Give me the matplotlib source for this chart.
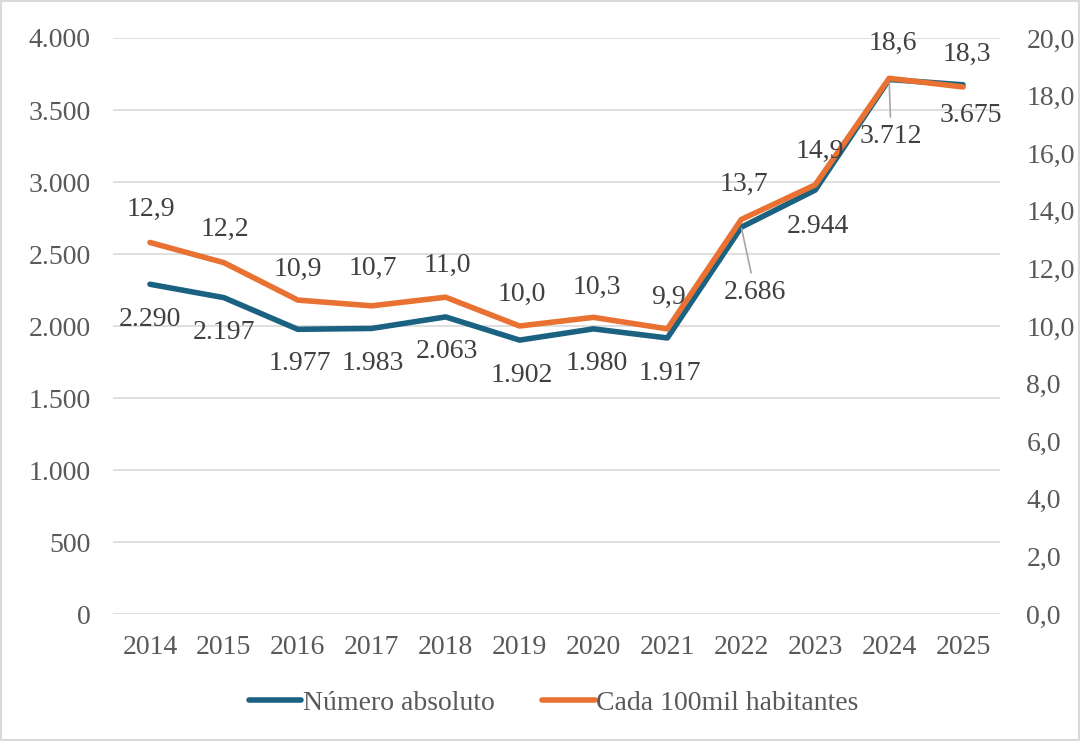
import matplotlib
matplotlib.use("Agg")
import matplotlib.pyplot as plt
from matplotlib.patches import Rectangle
from matplotlib.ticker import FuncFormatter, MultipleLocator

anos = ["2014", "2015", "2016", "2017", "2018", "2019", "2020", "2021", "2022", "2023", "2024", "2025"]
absoluto = [2290, 2197, 1977, 1983, 2063, 1902, 1980, 1917, 2686, 2944, 3712, 3675]
taxa = [12.9, 12.2, 10.9, 10.7, 11.0, 10.0, 10.3, 9.9, 13.7, 14.9, 18.6, 18.3]

# label offsets in pixels (dx, dy) relative to the point
off_abs = [(0, -35), (0, -35), (2, -34), (1, -35), (1, -35), (2, -35), (3, -35), (2, -36),
           (14, -65), (3, -36), (2, -57), (8, -31)]
off_taxa = [(1, 33), (1, 33), (0, 31), (1, 37), (2, 32), (2, 32), (3, 30), (1, 31),
            (3, 35), (5, 33), (4, 35), (4, 33)]

azul = "#1B6282"
laranja = "#E97132"
txt = "#404040"
tick_c = "#595959"
fs = 20

plt.rcParams["font.family"] = ["Liberation Serif", "DejaVu Serif"]

fig = plt.figure(figsize=(10.81, 7.41), dpi=100)
ax = fig.add_axes([113 / 1081, 1 - 614 / 741, 887 / 1081, 576 / 741])
ax2 = ax.twinx()

x = list(range(len(anos)))
ax.plot(x, absoluto, color=azul, lw=4, solid_joinstyle="round", solid_capstyle="round")
ax2.plot(x, taxa, color=laranja, lw=4, solid_joinstyle="round", solid_capstyle="round")

ax.set_xlim(-0.5, len(anos) - 0.5)
ax.set_ylim(0, 4000)
ax2.set_ylim(0, 20)
ax.yaxis.set_major_locator(MultipleLocator(500))
ax2.yaxis.set_major_locator(MultipleLocator(2))
ax.yaxis.set_major_formatter(FuncFormatter(lambda v, p: f"{int(v):,}".replace(",", ".")))
ax2.yaxis.set_major_formatter(FuncFormatter(lambda v, p: f"{v:.1f}".replace(".", ",")))
ax.set_xticks(x)
ax.set_xticklabels(anos)

ax.grid(axis="y", color="#d9d9d9", lw=1.2)
ax.set_axisbelow(True)
for a in (ax, ax2):
    for s in a.spines.values():
        s.set_visible(False)
ax.tick_params(axis="y", length=0, pad=16, labelsize=fs, labelcolor=tick_c)
ax.tick_params(axis="x", length=0, pad=15, labelsize=fs, labelcolor=tick_c)
ax2.tick_params(axis="y", length=0, pad=19, labelsize=fs, labelcolor=tick_c)

for i, v in enumerate(absoluto):
    dx, dy = off_abs[i]
    lbl = f"{v:,}".replace(",", ".")
    props = None
    if i in (8, 10):
        props = dict(arrowstyle="-", color="#a6a6a6", lw=1.2, shrinkA=3, shrinkB=1)
    ax.annotate(lbl, (i, v), xytext=(dx, dy), textcoords="offset pixels",
                ha="center", va="center", fontsize=fs, color=txt,
                arrowprops=props, annotation_clip=False)

for i, v in enumerate(taxa):
    dx, dy = off_taxa[i]
    ax2.annotate(f"{v:.1f}".replace(".", ","), (i, v), xytext=(dx, dy), textcoords="offset pixels",
                 ha="center", va="center", fontsize=fs, color=txt, annotation_clip=False)

h1 = plt.Line2D([], [], color=azul, lw=4, solid_capstyle="round")
h2 = plt.Line2D([], [], color=laranja, lw=4, solid_capstyle="round")
leg = fig.legend([h1, h2], ["Número absoluto", "Cada 100mil habitantes"], loc="center",
                 bbox_to_anchor=(0.512, 0.051), ncol=2, frameon=False, fontsize=fs,
                 handlelength=1.9, handletextpad=0.05, columnspacing=1.7)
for t in leg.get_texts():
    t.set_color(tick_c)

fig.patches.append(Rectangle((0.001, 0.001), 0.997, 0.997, transform=fig.transFigure,
                             fill=False, edgecolor="#d9d9d9", lw=1.5))

fig.savefig("out.png", dpi=100)
